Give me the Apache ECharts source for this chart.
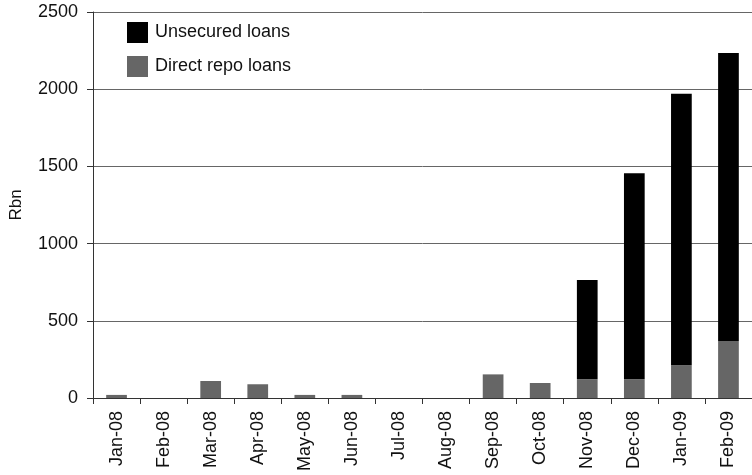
<!DOCTYPE html>
<html><head><meta charset="utf-8">
<script src="https://cdn.jsdelivr.net/npm/echarts@6/dist/echarts.min.js"></script>
<style>html,body{margin:0;padding:0;background:#fff}#c{width:752px;height:475px}</style>
</head><body><div id="c"></div>
<script>
const categories = ['Jan-08','Feb-08','Mar-08','Apr-08','May-08','Jun-08','Jul-08','Aug-08','Sep-08','Oct-08','Nov-08','Dec-08','Jan-09','Feb-09'];
const directRepo = [20,0,110,89,20,20,0,0,153,97,121,121,212,369];
const unsecured = [0,0,0,0,0,0,0,0,0,0,643,1334,1758,1866];
const yTicks = [0,500,1000,1500,2000,2500];

const chart = echarts.init(document.getElementById('c'));
chart.setOption({
  animation:false,
  textStyle:{fontFamily:'Liberation Sans, Arial, sans-serif'},
  grid:{left:90,right:0,top:12,bottom:77,containLabel:false},
  legend:{
    data:['Unsecured loans','Direct repo loans'],
    orient:'vertical', left:122, top:17, itemWidth:21, itemHeight:21, itemGap:13,
    icon:'rect',
    textStyle:{fontSize:18,color:'#111',padding:[0,0,0,2],fontFamily:'Liberation Sans, Arial, sans-serif'}
  },
  xAxis:{
    type:'category', data:categories,
    axisLine:{lineStyle:{color:'#333',width:1}},
    axisTick:{show:true,length:6,lineStyle:{color:'#333'}},
    axisLabel:{rotate:90,fontSize:18,color:'#111',margin:13,interval:0}
  },
  yAxis:{
    type:'value', min:yTicks[0], max:yTicks[yTicks.length-1], interval:500,
    name:'Rbn', nameLocation:'middle', nameGap:68, nameRotate:90,
    nameTextStyle:{fontSize:17,color:'#111'},
    axisLine:{show:true,lineStyle:{color:'#333',width:1}},
    axisTick:{show:true,length:6,lineStyle:{color:'#333'}},
    axisLabel:{fontSize:18,color:'#111',margin:15,formatter:function(v){return String(v);}},
    splitLine:{lineStyle:{color:'#666',width:1}}
  },
  series:[
    {name:'Direct repo loans',type:'bar',stack:'a',data:directRepo,barWidth:'44%',
     itemStyle:{color:'#666666'}},
    {name:'Unsecured loans',type:'bar',stack:'a',data:unsecured,barWidth:'44%',
     itemStyle:{color:'#000000'}}
  ]
});
</script></body></html>
